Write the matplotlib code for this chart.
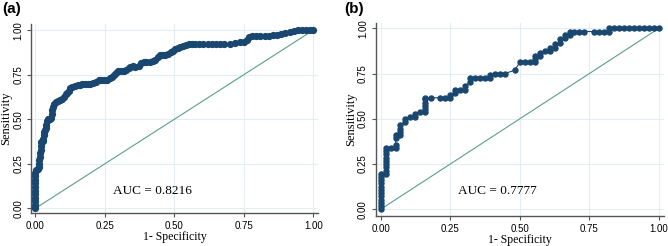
import matplotlib
matplotlib.use('agg')
import matplotlib.pyplot as plt

# ROC points (1 - specificity, sensitivity)
fpr_a = [0, 0, 0, 0, 0, 0, 0, 0, 0, 0, 0, 0.003,
         0.008, 0.012, 0.014, 0.015, 0.016, 0.018, 0.019, 0.019, 0.021, 0.026,
         0.029, 0.030, 0.031, 0.036, 0.039, 0.040, 0.041, 0.047, 0.053, 0.057,
         0.059, 0.061, 0.064, 0.068, 0.074, 0.081, 0.089, 0.097, 0.104, 0.109,
         0.115, 0.120, 0.126, 0.133, 0.142, 0.152, 0.160, 0.168, 0.178, 0.188,
         0.198, 0.208, 0.218, 0.228, 0.238, 0.248, 0.258, 0.268, 0.275, 0.282,
         0.290, 0.298, 0.308, 0.318, 0.328, 0.336, 0.342, 0.350, 0.360, 0.372,
         0.382, 0.390, 0.400, 0.412, 0.424, 0.432, 0.440, 0.448, 0.458, 0.468,
         0.478, 0.488, 0.496, 0.504, 0.512, 0.522, 0.532, 0.542, 0.552, 0.562,
         0.575, 0.590, 0.605, 0.620, 0.635, 0.650, 0.665, 0.680, 0.700, 0.720,
         0.735, 0.750, 0.760, 0.768, 0.780, 0.795, 0.810, 0.825, 0.840, 0.855,
         0.870, 0.885, 0.900, 0.915, 0.930, 0.945, 0.960, 0.975, 0.990, 1.0]
tpr_a = [0, 0.02, 0.04, 0.06, 0.08, 0.10, 0.12, 0.14, 0.16, 0.18, 0.20, 0.215,
         0.22, 0.23, 0.25, 0.27, 0.29, 0.31, 0.33, 0.35, 0.37, 0.38,
         0.39, 0.41, 0.43, 0.44, 0.45, 0.47, 0.49, 0.50, 0.50, 0.51,
         0.53, 0.55, 0.57, 0.585, 0.595, 0.605, 0.61, 0.615, 0.625, 0.64,
         0.65, 0.66, 0.675, 0.68, 0.685, 0.69, 0.695, 0.70, 0.70, 0.70,
         0.70, 0.705, 0.71, 0.72, 0.72, 0.72, 0.72, 0.73, 0.74, 0.75,
         0.76, 0.77, 0.77, 0.77, 0.775, 0.785, 0.795, 0.80, 0.795, 0.80,
         0.815, 0.82, 0.82, 0.82, 0.825, 0.835, 0.85, 0.86, 0.86, 0.86,
         0.865, 0.875, 0.885, 0.895, 0.90, 0.905, 0.91, 0.915, 0.92, 0.925,
         0.925, 0.925, 0.925, 0.925, 0.925, 0.925, 0.925, 0.925, 0.925, 0.93,
         0.935, 0.935, 0.945, 0.96, 0.965, 0.97, 0.97, 0.97, 0.97, 0.975,
         0.975, 0.98, 0.985, 0.99, 0.995, 1.0, 1.0, 1.0, 1.0, 1.0]

fpr_b = [0, 0, 0, 0, 0, 0, 0, 0, 0, 0, 0, 0,
         0.018, 0.018, 0.018, 0.018, 0.018, 0.018, 0.018, 0.018, 0.018,
         0.036, 0.054, 0.054, 0.054, 0.054, 0.071, 0.071, 0.071, 0.071,
         0.089, 0.089, 0.107, 0.125, 0.125, 0.143, 0.161, 0.161, 0.161, 0.161,
         0.161, 0.161, 0.179, 0.214, 0.232, 0.250, 0.250, 0.268, 0.268, 0.286,
         0.304, 0.304, 0.321, 0.321, 0.339, 0.357, 0.375, 0.393, 0.393, 0.411,
         0.429, 0.446, 0.482, 0.500, 0.518, 0.536, 0.554, 0.554, 0.554, 0.571,
         0.571, 0.589, 0.607, 0.607, 0.625, 0.625, 0.643, 0.643, 0.661, 0.661,
         0.679, 0.679, 0.696, 0.714, 0.732, 0.768, 0.786, 0.804, 0.821, 0.821,
         0.839, 0.857, 0.875, 0.893, 0.911, 0.929, 0.946, 0.964, 0.982, 1.0]
tpr_b = [0, 0.018, 0.036, 0.054, 0.071, 0.089, 0.107, 0.125, 0.143, 0.161, 0.179, 0.196,
         0.196, 0.214, 0.232, 0.250, 0.268, 0.286, 0.304, 0.321, 0.339,
         0.339, 0.339, 0.357, 0.393, 0.411, 0.411, 0.429, 0.446, 0.464,
         0.482, 0.500, 0.509, 0.509, 0.527, 0.536, 0.536, 0.554, 0.571, 0.589,
         0.607, 0.616, 0.616, 0.616, 0.616, 0.616, 0.634, 0.643, 0.661, 0.661,
         0.661, 0.679, 0.705, 0.723, 0.723, 0.723, 0.723, 0.723, 0.741, 0.750,
         0.750, 0.750, 0.768, 0.813, 0.813, 0.813, 0.813, 0.830, 0.848, 0.848,
         0.866, 0.875, 0.875, 0.893, 0.893, 0.911, 0.920, 0.938, 0.946, 0.964,
         0.964, 0.982, 0.982, 0.982, 0.982, 0.982, 0.982, 0.982, 0.982, 1.0,
         1.0, 1.0, 1.0, 1.0, 1.0, 1.0, 1.0, 1.0, 1.0, 1.0]

auc_a = 0.8216
auc_b = 0.7777
ticks = [0.0, 0.25, 0.5, 0.75, 1.0]
tick_labels = ['0.00', '0.25', '0.50', '0.75', '1.00']

navy = '#1a476f'
ref_color = '#5a9e8c'
grid_color = '#e4eef2'


def draw_roc(ax, fpr, tpr, auc, xlim, ylim, ms):
    ax.plot([0, 1], [0, 1], color=ref_color, lw=0.8, zorder=2)
    ax.plot(fpr, tpr, color=navy, lw=0.8, marker='o', ms=ms,
            mec=navy, mfc=navy, zorder=3)
    ax.set_xlim(*xlim)
    ax.set_ylim(*ylim)
    ax.set_xticks(ticks)
    ax.set_xticklabels(tick_labels, fontsize=7, family='Liberation Sans')
    ax.set_yticks(ticks)
    ax.set_yticklabels(tick_labels, fontsize=7, family='Liberation Sans',
                       rotation=90, va='center')
    ax.grid(True, color=grid_color, lw=0.8)
    ax.set_axisbelow(True)
    for s in ['top', 'right']:
        ax.spines[s].set_visible(False)
    for s in ['left', 'bottom']:
        ax.spines[s].set_color('#555555')
        ax.spines[s].set_linewidth(1.0)
    ax.tick_params(length=3, width=0.8, color='#555555', pad=2.5)
    ax.set_xlabel('1- Specificity', fontsize=8.5, family='Liberation Serif',
                  labelpad=0)
    ax.set_ylabel('Sensitivity', fontsize=9, family='Liberation Serif',
                  labelpad=1)
    ax.text(0.278, 0.10, 'AUC = %.4f' % auc, fontsize=9.5,
            family='Liberation Serif', va='center', ha='left')


fig = plt.figure(figsize=(6.68, 2.46), dpi=100)
ax1 = fig.add_axes([0.0464, 0.134, 0.4296, 0.768])
ax2 = fig.add_axes([0.5624, 0.122, 0.4316, 0.786])

draw_roc(ax1, fpr_a, tpr_a, auc_a, (-0.0155, 1.017), (-0.026, 1.034), 4.2)
draw_roc(ax2, fpr_b, tpr_b, auc_b, (-0.018, 1.018), (-0.037, 1.031), 3.6)

fig.text(0.004, 0.99, '(a)', fontsize=11, fontweight='bold',
         family='Liberation Sans', va='top', ha='left')
fig.text(0.516, 0.99, '(b)', fontsize=11, fontweight='bold',
         family='Liberation Sans', va='top', ha='left')

fig.savefig('out.png', dpi=100)
